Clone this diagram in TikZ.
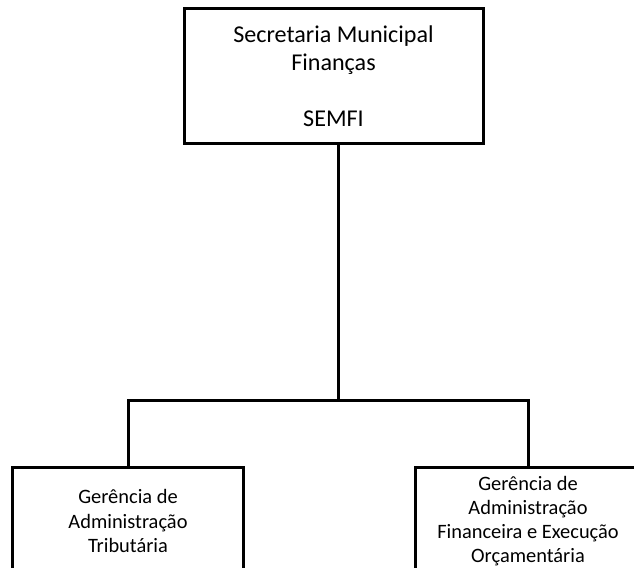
\documentclass[tikz,border=0pt]{standalone}
\usepackage{fontspec}
\setmainfont{Carlito}
\begin{document}
\begin{tikzpicture}[x=1bp,y=-1bp,
  box/.style={draw=black,line width=3bp,rectangle,inner sep=0pt,outer sep=0pt,align=center,text=black},
  topfont/.style={font=\fontsize{24.2}{28.2}\selectfont},
  subfont/.style={font=\fontsize{20.5}{24.3}\selectfont},
  link/.style={draw=black,line width=3bp}]
\clip (0,0) rectangle (634,568);
\fill[white] (0,0) rectangle (634,568);
\node[box,topfont,minimum width=299bp,minimum height=134bp] (top) at (333.5,76) {Secretaria Municipal\\Finanças\\\mbox{}\\SEMFI};
\node[box,subfont,minimum width=230bp,minimum height=108bp] (left) at (128,521) {Gerência de\\Administração\\Tributária};
\node[box,subfont,minimum width=226bp,minimum height=108bp] (right) at (528,521) {Gerência de\\Administração\\Financeira e Execução\\Orçamentária};
\coordinate (j) at (338,400);
\draw[link] (top.south -| j) -- (j);
\draw[link] (left.north) |- (j) -| (right.north);
\end{tikzpicture}
\end{document}
